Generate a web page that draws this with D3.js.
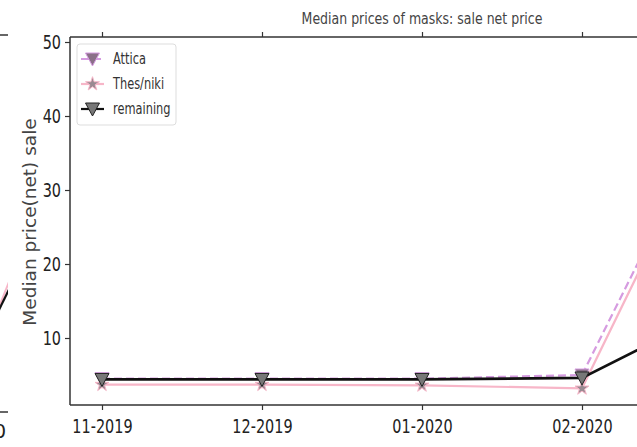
<!DOCTYPE html>
<meta charset="utf-8">
<script src="https://d3js.org/d3.v7.min.js"></script>
<style>
  body { margin: 0; background: #fff; }
  text { font-family: "DejaVu Sans", sans-serif; fill: #222; }
</style>
<div id="my_dataviz"></div>
<script>
// data
var months = ["11-2019", "12-2019", "01-2020", "02-2020", "03-2020"];
var attica = [4.5, 4.5, 4.5, 5.0, 48.3];
var thesniki = [3.7, 3.7, 3.6, 3.2, 47.5];
var remaining = [4.4, 4.4, 4.4, 4.6, 15.5];
var yTicks = [10, 20, 30, 40, 50];
// tail of the neighbouring panel that is cut off on the left
var leftMonths = ["02-2020", "03-2020"];
var leftBlack = [3, 21];
var leftPink = [1, 23];

var W = 637, H = 447;
var plot = {left: 70, top: 37, bottom: 405, right: 774};
var squeeze = 0.76; // the screenshot is squashed horizontally

var svg = d3.select("#my_dataviz").append("svg")
    .attr("width", W).attr("height", H);

var x = d3.scalePoint().domain(months).range([102, 742]);
var y = d3.scaleLinear().domain([0, 50]).range([412, 42]);

svg.append("defs").append("clipPath").attr("id", "clip")
  .append("rect").attr("x", plot.left).attr("y", plot.top)
  .attr("width", plot.right - plot.left).attr("height", plot.bottom - plot.top);
svg.select("defs").append("clipPath").attr("id", "clipLeft")
  .append("rect").attr("x", -50).attr("y", 35).attr("width", 58).attr("height", 377);

function squash(sel, anchorX) {
  sel.attr("transform", function() {
    var ax = anchorX(this);
    return "translate(" + ax + ",0) scale(" + squeeze + ",1) translate(" + (-ax) + ",0)";
  });
}

// ---- left neighbour panel (partial) ----
var xl = d3.scalePoint().domain(leftMonths).range([-40, 25]);
var left = svg.append("g");
left.append("line").attr("x1", 0).attr("x2", 8).attr("y1", 35).attr("y2", 35)
  .attr("stroke", "#333").attr("stroke-width", 1.5);
left.append("line").attr("x1", 0).attr("x2", 8).attr("y1", 412).attr("y2", 412)
  .attr("stroke", "#333").attr("stroke-width", 1.5);
var lineL = d3.line().x(function(d, i) { return xl(leftMonths[i]); }).y(function(d) { return y(d); });
left.append("path").datum(leftPink).attr("d", lineL).attr("fill", "none")
  .attr("stroke", "#f7b6c8").attr("stroke-width", 2).attr("clip-path", "url(#clipLeft)");
left.append("path").datum(leftBlack).attr("d", lineL).attr("fill", "none")
  .attr("stroke", "#111").attr("stroke-width", 2.2).attr("clip-path", "url(#clipLeft)");
left.append("text").attr("x", 6).attr("y", 438).attr("text-anchor", "end")
  .style("font-size", "19px").text("0");

// ---- title ----
svg.append("text").attr("x", (plot.left + plot.right) / 2).attr("y", 24)
  .attr("text-anchor", "middle").style("font-size", "16.5px").style("fill", "#444")
  .text("Median prices of masks: sale net price")
  .call(squash, function() { return (plot.left + plot.right) / 2; });

// ---- y label ----
svg.append("text").attr("transform", "translate(36,222) rotate(-90)")
  .attr("text-anchor", "middle").style("font-size", "18.5px").style("fill", "#444")
  .text("Median price(net) sale");

// ---- axes ----
var xAxis = svg.append("g").attr("transform", "translate(0," + plot.bottom + ")")
  .call(d3.axisBottom(x).tickSize(5).tickPadding(6));
xAxis.select(".domain").remove();
xAxis.selectAll(".tick text").style("font-size", "19px").attr("dy", "0.9em")
  .call(squash, function() { return 0; });

var topTicks = svg.append("g").attr("transform", "translate(0," + plot.top + ")")
  .call(d3.axisTop(x).tickSize(5).tickFormat(""));
topTicks.select(".domain").remove();

var yAxis = svg.append("g").attr("transform", "translate(" + plot.left + ",0)")
  .call(d3.axisLeft(y).tickValues(yTicks).tickSize(5).tickPadding(4));
yAxis.select(".domain").remove();
yAxis.selectAll(".tick text").style("font-size", "19px")
  .call(squash, function() { return -9; });

svg.selectAll(".tick line").attr("stroke", "#333").attr("stroke-width", 1.2);

// spines
svg.append("line").attr("x1", plot.left).attr("x2", W).attr("y1", plot.top).attr("y2", plot.top)
  .attr("stroke", "#333").attr("stroke-width", 1.5);
svg.append("line").attr("x1", plot.left).attr("x2", W).attr("y1", plot.bottom).attr("y2", plot.bottom)
  .attr("stroke", "#333").attr("stroke-width", 1.5);
svg.append("line").attr("x1", plot.left).attr("x2", plot.left).attr("y1", plot.top).attr("y2", plot.bottom)
  .attr("stroke", "#333").attr("stroke-width", 1.5);

// ---- series ----
var line = d3.line().x(function(d, i) { return x(months[i]); }).y(function(d) { return y(d); });
var g = svg.append("g").attr("clip-path", "url(#clip)");

var triDown = "M-7,-6L7,-6L0,7Z";
var star = d3.symbol().type(d3.symbolStar).size(60)();

g.append("path").datum(thesniki).attr("d", line).attr("fill", "none")
  .attr("stroke", "#f7b6c8").attr("stroke-width", 2.2);
g.selectAll(".thes").data(thesniki).enter().append("path")
  .attr("d", star)
  .attr("transform", function(d, i) { return "translate(" + x(months[i]) + "," + y(d) + ")"; })
  .attr("fill", "#9a8a92").attr("stroke", "#f7b6c8").attr("stroke-width", 1);

g.append("path").datum(attica).attr("d", line).attr("fill", "none")
  .attr("stroke", "#d59be0").attr("stroke-width", 2.2).attr("stroke-dasharray", "8,4");
g.selectAll(".att").data(attica).enter().append("path")
  .attr("d", triDown)
  .attr("transform", function(d, i) { return "translate(" + x(months[i]) + "," + y(d) + ")"; })
  .attr("fill", "#8a7088").attr("stroke", "#d59be0").attr("stroke-width", 1);

g.append("path").datum(remaining).attr("d", line).attr("fill", "none")
  .attr("stroke", "#111").attr("stroke-width", 2.7);
g.selectAll(".rem").data(remaining).enter().append("path")
  .attr("d", triDown)
  .attr("transform", function(d, i) { return "translate(" + x(months[i]) + "," + y(d) + ")"; })
  .attr("fill", "#777").attr("stroke", "#222").attr("stroke-width", 1);

// ---- legend ----
var legendItems = [
  {name: "Attica", color: "#d59be0", dash: "8,4", marker: triDown, fill: "#8a7088"},
  {name: "Thes/niki", color: "#f7b6c8", dash: null, marker: star, fill: "#9a8a92"},
  {name: "remaining", color: "#111", dash: null, marker: triDown, fill: "#777"}
];
var legend = svg.append("g").attr("transform", "translate(77,44)");
legend.append("rect").attr("width", 99).attr("height", 81).attr("rx", 3)
  .attr("fill", "#fff").attr("stroke", "#ddd");
var li = legend.selectAll(".li").data(legendItems).enter().append("g")
  .attr("transform", function(d, i) { return "translate(0," + (15 + i * 25) + ")"; });
li.append("line").attr("x1", 4).attr("x2", 27).attr("stroke", function(d) { return d.color; })
  .attr("stroke-width", 2.2).attr("stroke-dasharray", function(d) { return d.dash; });
li.append("path").attr("d", function(d) { return d.marker; })
  .attr("transform", "translate(15.5,0)")
  .attr("fill", function(d) { return d.fill; })
  .attr("stroke", function(d) { return d.name === "remaining" ? "#222" : d.color; });
li.append("text").attr("x", 36).attr("y", 5).style("font-size", "15px").style("fill", "#333")
  .text(function(d) { return d.name; })
  .call(squash, function() { return 36; });
</script>
